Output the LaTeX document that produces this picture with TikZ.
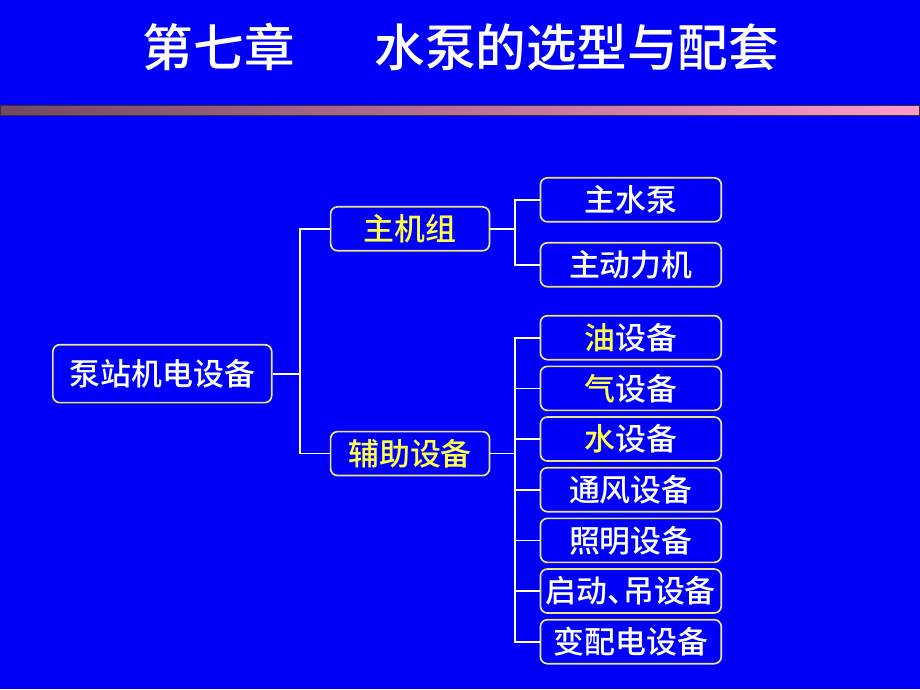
\documentclass[tikz,border=0pt]{standalone}
\usepackage{fontspec}
\setmainfont{Noto Sans CJK SC}[BoldFont={Noto Sans CJK SC Medium}]
\usepackage{tikz}
\usetikzlibrary{positioning}

\definecolor{slideblue}{RGB}{0,0,250}
\definecolor{boxedge}{RGB}{235,230,130}
\definecolor{hilite}{RGB}{255,255,70}
\definecolor{barleft}{RGB}{115,72,98}
\definecolor{barright}{RGB}{255,153,204}

\begin{document}
\begin{tikzpicture}[
	x = 0.025cm, y = -0.025cm,
	node distance = 1.2675cm,
	on grid,
	every node/.style = {font=\bfseries\fontsize{22}{25}\selectfont, text=white},
	box/.style = {draw=boxedge, line width=1.2pt, fill=slideblue, rounded corners=5pt, inner sep=0pt},
	rootbox/.style = {box, minimum width=5.475cm, minimum height=1.45cm},
	groupbox/.style = {box, minimum width=3.975cm, minimum height=1.1cm, text=hilite},
	leafbox/.style = {box, minimum width=4.525cm, minimum height=1.1cm},
	link/.style = {draw=white, line width=1.2pt}
	]
	% background and title
	\fill[slideblue] (0,0) rectangle (920,690);
	\node[font=\bfseries\fontsize{36}{40}\selectfont] (title) at (461,47) {第七章\hspace{2cm}水泵的选型与配套};
	\shade[left color=barleft, right color=barright, draw=black!80, line width=0.6pt] (0,106) rectangle (920,116);
	% tree
	\node[rootbox] (root) at (162,374) {泵站机电设备};
	\node[groupbox] (main) at (410,229) {主机组};
	\node[groupbox] (aux) at (410,454) {辅助设备};
	\node[leafbox] (pump) at (631,200) {主水泵};
	\node[leafbox] (motor) at (631,265) {主动力机};
	\node[leafbox] (oil) at (631,338) {\textcolor{hilite}{油}设备};
	\node[leafbox] (gas) [below=of oil] {\textcolor{hilite}{气}设备};
	\node[leafbox] (water) [below=of gas] {\textcolor{hilite}{水}设备};
	\node[leafbox] (vent) [below=of water] {通风设备};
	\node[leafbox] (light) [below=of vent] {照明设备};
	\node[leafbox] (crane) [below=of light] {启动\makebox[0.5em][l]{、}吊设备};
	\node[leafbox] (power) [below=of crane] {变配电设备};
	% connectors
	\coordinate (rootfork) at (300,374);
	\coordinate (mainfork) at (515,229);
	\coordinate (auxfork) at (515,454);
	\draw[link] (root.east) -- (rootfork);
	\foreach \g in {main, aux}
		\draw[link] (rootfork) |- (\g.west);
	\draw[link] (main.east) -- (mainfork);
	\foreach \l in {pump, motor}
		\draw[link] (mainfork) |- (\l.west);
	\draw[link] (aux.east) -- (auxfork);
	\foreach \l in {oil, gas, water, vent, light, crane, power}
		\draw[link] (auxfork) |- (\l.west);
\end{tikzpicture}
\end{document}
